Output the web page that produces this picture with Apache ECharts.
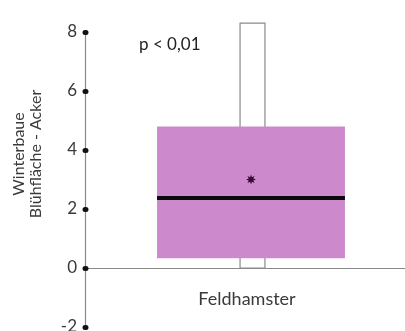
<!DOCTYPE html>
<html><head><meta charset="utf-8">
<script src="https://cdn.jsdelivr.net/npm/echarts@6/dist/echarts.min.js"></script>
<style>html,body{margin:0;padding:0;background:#fff}#c{width:405px;height:331px}</style>
</head><body><div id="c"></div>
<script>
const categories = ['Feldhamster'];
const minValues = [0];
const q1Values = [0.33];
const medianValues = [2.37];
const q3Values = [4.8];
const maxValues = [8.3];
const meanValues = [3.0];
const yTicks = [-2, 0, 2, 4, 6, 8];
const yAxisTitle = ['Winterbaue', 'Blühfläche - Acker'];
const pLabel = 'p < 0,01';

const FONT = 'Lato';
const chart = echarts.init(document.getElementById('c'), null, { renderer: 'canvas' });
const data = categories.map((c, i) => [i, minValues[i], q1Values[i], medianValues[i], q3Values[i], maxValues[i], meanValues[i]]);

function starPoints(cx, cy, rOut, rIn, n) {
  const pts = [];
  for (let k = 0; k < n * 2; k++) {
    const r = k % 2 === 0 ? rOut : rIn;
    const a = -Math.PI / 2 + k * Math.PI / n;
    pts.push([cx + r * Math.cos(a), cy + r * Math.sin(a)]);
  }
  return pts;
}

chart.setOption({
  animation: false,
  grid: { left: 85, right: -12, top: 32, bottom: 4, outerBoundsMode: 'none', containLabel: false },
  xAxis: {
    type: 'category',
    data: categories,
    axisLine: { onZero: true, lineStyle: { color: '#8a8a8a', width: 1.2 } },
    axisTick: { show: false },
    axisLabel: { margin: -37, fontFamily: FONT, fontSize: 18, color: '#3a3a3a', padding: [0, 8, 0, 0] },
    splitLine: { show: false }
  },
  yAxis: {
    type: 'value',
    min: yTicks[0],
    max: yTicks[yTicks.length - 1],
    interval: 2,
    axisLine: { show: true, onZero: false, lineStyle: { color: '#8a8a8a', width: 1.2 } },
    axisTick: { show: true, inside: true, length: 1, lineStyle: { color: '#111', width: 5, cap: 'round' } },
    axisLabel: { margin: 8, fontFamily: FONT, fontSize: 17, color: '#3a3a3a' },
    splitLine: { show: false }
  },
  graphic: [
    {
      type: 'text', x: 27, y: 154, rotation: Math.PI / 2,
      style: { text: yAxisTitle.join('\n'), fontFamily: FONT, fontSize: 16, lineHeight: 17, fill: '#3a3a3a', align: 'center', verticalAlign: 'middle' }
    },
    {
      type: 'text', x: 139, y: 45,
      style: { text: pLabel, fontFamily: FONT, fontSize: 17, fill: '#222', align: 'left', verticalAlign: 'middle' }
    }
  ],
  series: [{
    type: 'custom',
    clip: false,
    data: data,
    encode: { x: 0, y: [1, 2, 3, 4, 5] },
    renderItem: function (params, api) {
      const x = api.value(0);
      const pMin = api.coord([x, api.value(1)]);
      const pQ1 = api.coord([x, api.value(2)]);
      const pMed = api.coord([x, api.value(3)]);
      const pQ3 = api.coord([x, api.value(4)]);
      const pMax = api.coord([x, api.value(5)]);
      const pMean = api.coord([x, api.value(6)]);
      const band = api.size([1, 0])[0];
      const boxW = band * 0.566;
      const wW = band * 0.075;
      const cx = pMed[0];
      return {
        type: 'group',
        children: [
          { type: 'rect', shape: { x: cx - wW / 2 + 1.5, y: pMax[1], width: wW, height: pMin[1] - pMax[1] },
            style: { fill: '#fff', stroke: '#8a8a8a', lineWidth: 1.2 } },
          { type: 'rect', shape: { x: cx - boxW / 2, y: pQ3[1], width: boxW, height: pQ1[1] - pQ3[1] },
            style: { fill: '#cc8acc', stroke: null } },
          { type: 'line', shape: { x1: cx - boxW / 2, y1: pMed[1], x2: cx + boxW / 2, y2: pMed[1] },
            style: { stroke: '#0a0a0a', lineWidth: 4 } },
          { type: 'polygon', shape: { points: starPoints(pMean[0], pMean[1], 5, 2.5, 8) },
            style: { fill: '#3a0a35' } }
        ]
      };
    }
  }]
});
</script>
</body></html>
